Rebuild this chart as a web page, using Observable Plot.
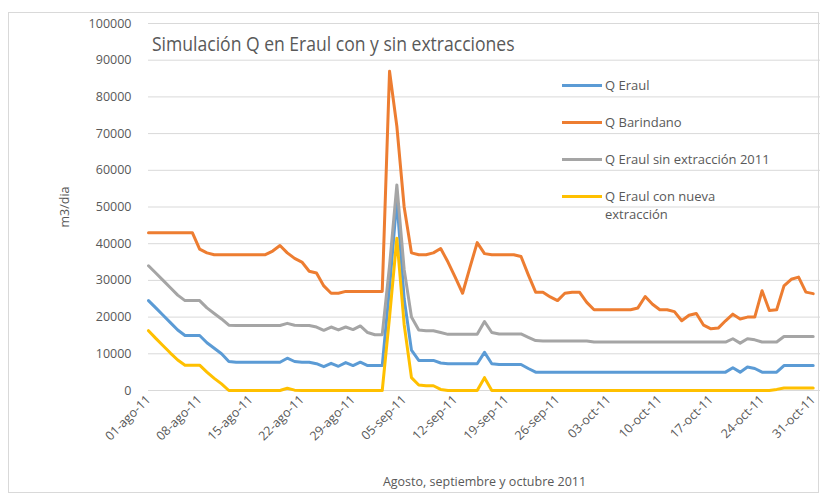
<!DOCTYPE html>
<html><head><meta charset="utf-8">
<script src="https://cdn.jsdelivr.net/npm/d3@7"></script>
<script src="https://cdn.jsdelivr.net/npm/@observablehq/plot@0.6"></script>
<style>
html,body{margin:0;padding:0;background:#fff;}
#wrap{position:relative;width:826px;height:499px;font-family:"Open Sans",sans-serif;color:#595959;overflow:hidden;}
#border{position:absolute;left:8px;top:12px;width:811px;height:481px;border:1px solid #d9d9d9;box-sizing:border-box;}
#title{position:absolute;left:152px;top:31px;font-size:19.5px;white-space:nowrap;line-height:26px;transform:scaleX(0.9);transform-origin:0 0;}
#legend{position:absolute;left:562px;top:76px;font-size:13px;line-height:18px;}
.item{position:absolute;left:0;white-space:nowrap;}
.sw{position:absolute;left:0;top:8px;width:40px;height:3px;}
.lt{position:absolute;left:43px;top:0;}
svg{position:absolute;left:0;top:0;}
</style></head><body><div id="wrap"><div id="border"></div></div>
<script>
// ---- data (daily values, 1 Aug 2011 .. 31 Oct 2011) ----
const startDate = "2011-08-01";
const seriesNames = ["Q Eraul", "Q Barindano", "Q Eraul sin extracción 2011", "Q Eraul con nueva extracción"];
const legendLines = [["Q Eraul"], ["Q Barindano"], ["Q Eraul sin extracción 2011"], ["Q Eraul con nueva", "extracción"]];
const seriesColors = ["#5B9BD5", "#ED7D31", "#A5A5A5", "#FFC000"];

const qEraul = [24500,22500,20500,18500,16500,15000,15000,15000,13000,11500,10000,7900,
  7700,7700,7700,7700,7700,7700,7700,
  8800,7900,7700,7700,7300,6500,7400,6600,7600,6800,7700,6800,6800,6800,
  28000,52000,25000,11000,8200,8200,8200,7500,7300,7300,7300,7300,7300,
  10400,7300,7100,7100,7100,7100,6000,5000,5000,5000,5000,5000,5000,5000,5000,
  5000,5000,5000,5000,5000,5000,5000,5000,5000,5000,5000,5000,5000,5000,5000,5000,5000,5000,5000,
  6200,5000,6400,6000,5000,5000,5000,6800,6800,6800,6800,6800];

const qBarindano = [43000,43000,43000,43000,43000,43000,43000,38500,37500,
  37000,37000,37000,37000,37000,37000,37000,37000,
  38000,39500,37500,36000,35000,32500,32000,28500,26500,26500,
  27000,27000,27000,27000,27000,27000,
  87000,72000,50000,37500,37000,37000,37500,38700,35000,30800,26500,33500,40300,37300,
  37000,37000,37000,37000,
  36500,31500,26800,26800,25500,24500,26500,26800,26800,24000,
  22000,22000,22000,22000,22000,22000,
  22500,25600,23500,22000,22000,21500,19000,20500,21000,17800,16800,17000,19000,20800,19500,20000,20000,27200,21800,22000,28500,30300,30900,26800,26400];

const qSinExtraccion = [34000,32000,30000,28000,26000,24500,24500,24500,22500,21000,19500,17800,
  17700,17700,17700,17700,17700,17700,17700,
  18300,17800,17700,17700,17300,16400,17300,16500,17300,16600,17600,15800,15200,15200,
  34000,56000,33000,20000,16500,16300,16300,15800,15300,15300,15300,15300,15300,
  18800,15800,15400,15400,15400,15400,14500,13600,
  13500,13500,13500,13500,13500,13500,13500,
  13200,13200,13200,13200,13200,13200,13200,13200,13200,13200,13200,13200,13200,13200,13200,13200,13200,13200,13200,
  14100,12900,14100,13800,13200,13200,13200,14700,14700,14700,14700,14700];

const qNuevaExtraccion = [16300,14200,12200,10200,8300,6900,6900,6900,5000,3300,1800,0,
  0,0,0,0,0,0,0,
  600,100,0,0,0,0,0,0,0,0,0,0,0,0,
  20000,41500,18000,3500,1500,1300,1300,300,0,0,0,0,0,
  3500,0,
  0,0,0,0,0,0,0,0,0,0,0,0,0,0,0,0,0,0,0,0,0,0,0,0,0,0,0,0,0,0,0,0,0,0,0,0,0,0,
  300,700,700,700,700,700];

const seriesValues = [qEraul, qBarindano, qSinExtraccion, qNuevaExtraccion];
const yTicks = [0,10000,20000,30000,40000,50000,60000,70000,80000,90000,100000];
const xTickLabels = ["2011-08-01","2011-08-08","2011-08-15","2011-08-22","2011-08-29","2011-09-05","2011-09-12","2011-09-19","2011-09-26","2011-10-03","2011-10-10","2011-10-17","2011-10-24","2011-10-31"];
const monthAbbr = ["ene","feb","mar","abr","may","jun","jul","ago","sep","oct","nov","dic"];
const titleText = "Simulación Q en Eraul con y sin extracciones";
const xLabel = "Agosto, septiembre y octubre 2011";
const yLabel = "m3/dia";

// ---- build ----
const start = new Date(startDate + "T00:00:00Z");
const dates = qEraul.map((_, i) => d3.utcDay.offset(start, i));
const tables = seriesValues.map((vals, s) => vals.map((v, i) => ({date: dates[i], value: v, series: seriesNames[s]})));
const fmt = d => `${String(d.getUTCDate()).padStart(2, "0")}-${monthAbbr[d.getUTCMonth()]}-11`;

const chart = Plot.plot({
  width: 826, height: 499,
  marginTop: 23, marginBottom: 109, marginLeft: 148, marginRight: 6,
  style: {fontFamily: "Open Sans, sans-serif", fontSize: "12.5px", color: "#595959", background: "transparent", overflow: "visible"},
  x: {type: "utc", domain: [start, d3.utcDay.offset(start, dates.length)]},
  y: {domain: [0, 100000]},
  marks: [
    Plot.gridY(yTicks, {stroke: "#d9d9d9", strokeOpacity: 1, strokeWidth: 1}),
    ...tables.map((t, s) => Plot.line(t, {x: "date", y: "value", stroke: seriesColors[s], strokeWidth: 3, strokeLinejoin: "round", strokeLinecap: "round"})),
    Plot.axisX(xTickLabels.map(s => new Date(s + "T00:00:00Z")), {tickFormat: fmt, tickRotate: -45, tickSize: 0, tickPadding: 7, label: xLabel, labelAnchor: "center", labelOffset: 95, labelArrow: "none", fontSize: 12.5}),
    Plot.axisY(yTicks, {tickFormat: d => String(d), tickSize: 0, tickPadding: 17, label: yLabel, labelAnchor: "center", labelOffset: 88, labelArrow: "none", fontSize: 12.5})
  ]
});
const wrap = document.getElementById("wrap");
wrap.appendChild(chart);

const title = document.createElement("div");
title.id = "title"; title.textContent = titleText;
wrap.appendChild(title);

const legend = document.createElement("div");
legend.id = "legend";
const legendTops = [0, 37, 74, 111];
seriesNames.forEach((name, s) => {
  const it = document.createElement("div");
  it.className = "item"; it.style.top = legendTops[s] + "px";
  const sw = document.createElement("div"); sw.className = "sw"; sw.style.background = seriesColors[s];
  const lt = document.createElement("div"); lt.className = "lt";
  lt.innerHTML = legendLines[s].join("<br>");
  it.appendChild(sw); it.appendChild(lt);
  legend.appendChild(it);
});
wrap.appendChild(legend);
</script>
</body></html>
